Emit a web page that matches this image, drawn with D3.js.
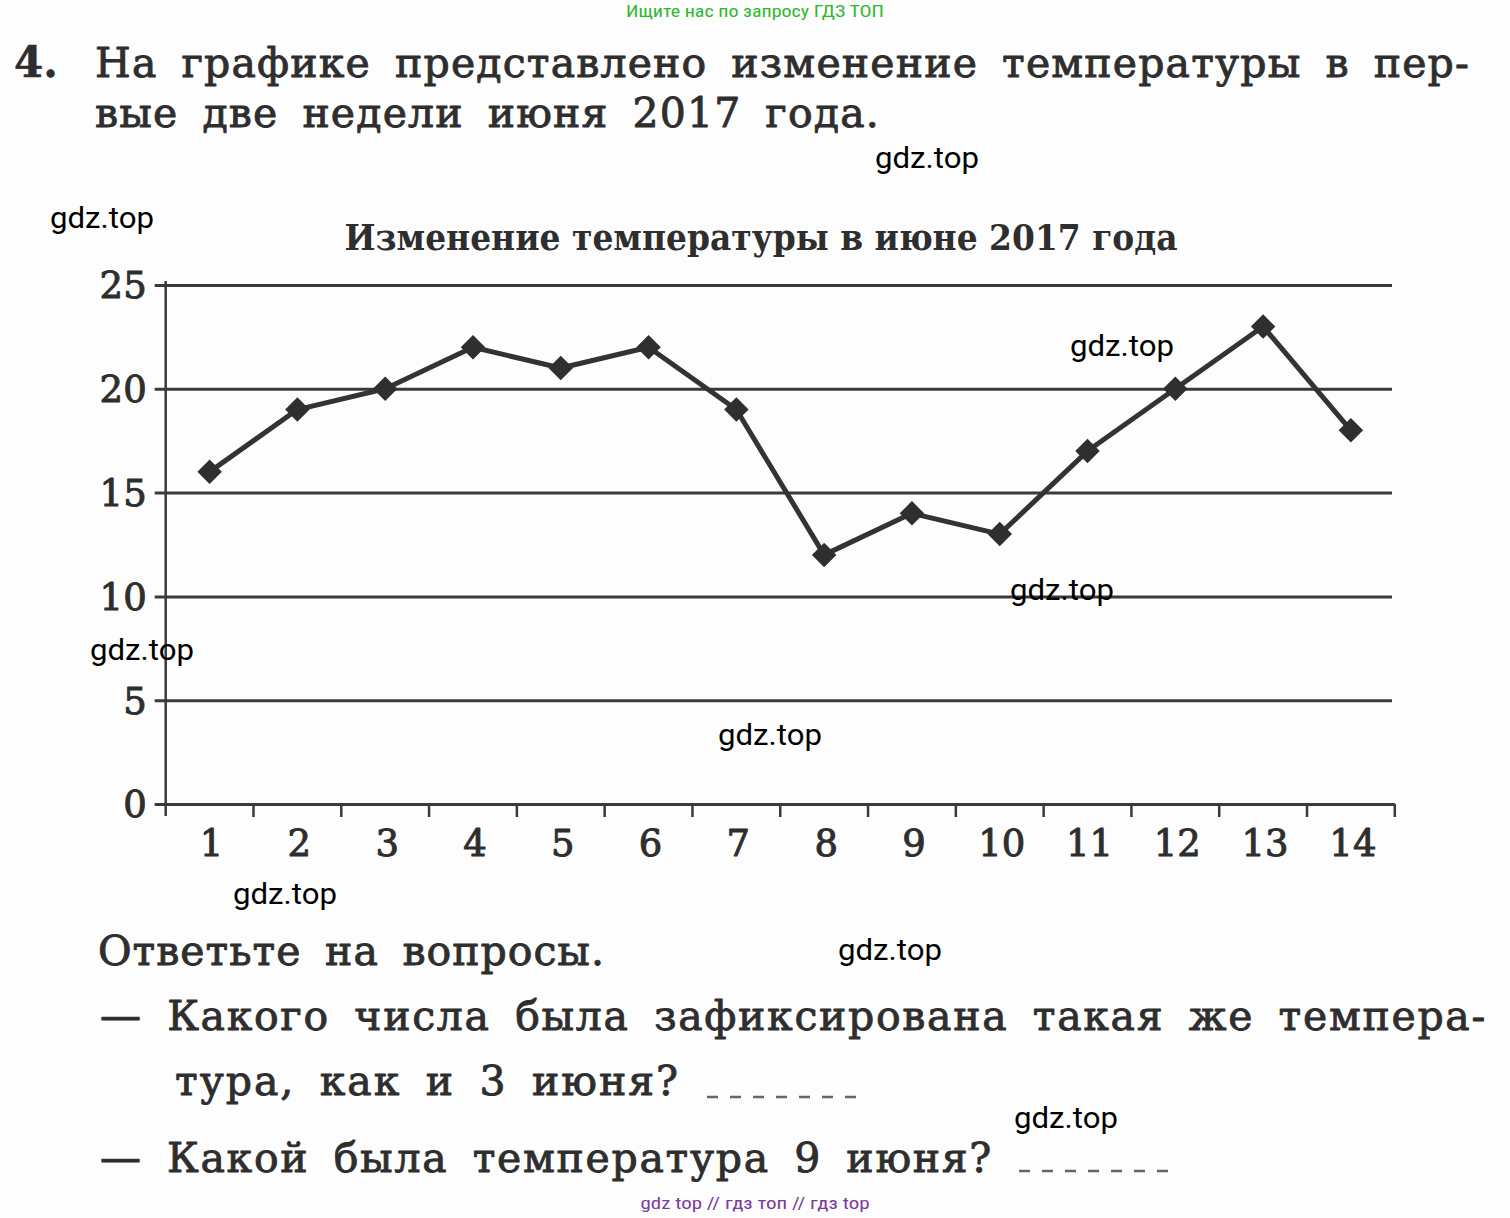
<!DOCTYPE html>
<html><head><meta charset="utf-8">
<script src="https://cdn.jsdelivr.net/npm/d3@7"></script>
<style>
html,body{margin:0;padding:0;background:#fff;}
svg{display:block;}
</style></head>
<body>
<script>
// ---- data ----
const days = ["1","2","3","4","5","6","7","8","9","10","11","12","13","14"];
const temps = [16,19,20,22,21,22,19,12,14,13,17,20,23,18];
const yTicks = [0,5,10,15,20,25];
const chartTitle = "Изменение температуры в июне 2017 года";
const headerLines = ["На графике представлено изменение температуры в пер-","вые две недели июня 2017 года."];
const questionLines = ["Ответьте на вопросы.","— Какого числа была зафиксирована такая же темпера-","тура, как и 3 июня?","— Какой была температура 9 июня?"];
const watermarks = [[50,218],[875,158],[1070,346],[1010,590],[90,650],[718,735],[233,894],[838,950],[1014,1118]];

const W = 1510, H = 1218;
const svg = d3.select("body").append("svg").attr("width",W).attr("height",H);
svg.append("rect").attr("width",W).attr("height",H).attr("fill","#fdfdfd");

const ink = "#2e2e2e";
const serif = "'DejaVu Serif', serif";

function heavy(sel, w){
  return sel.attr("stroke",ink).attr("stroke-width",w).attr("stroke-linejoin","round");
}
function justify(sel, width, ws){
  const txt = sel.text();
  const spaces = (txt.match(/ /g)||[]).length;
  if(spaces>0) sel.attr("word-spacing", ws);
  const nat = sel.node().getComputedTextLength();
  const n = txt.length;
  sel.attr("letter-spacing", Math.max(0,(width-nat)/(n-1)));
  // correct residual with word spacing
  const nat2 = sel.node().getComputedTextLength();
  if(spaces>0) sel.attr("word-spacing", ws + (width-nat2)/spaces);
}
function bodyText(x0, y0, txt, width){
  const t = svg.append("text").attr("x",x0).attr("y",y0).attr("font-family",serif)
    .attr("font-size",41).attr("fill",ink).text(txt);
  heavy(t, 0.9);
  justify(t, width, 10);
  return t;
}

// top banner
svg.append("text").attr("x",755).attr("y",17).attr("text-anchor","middle")
  .attr("font-family","'Liberation Sans Narrow','Roboto Condensed','Liberation Sans',sans-serif")
  .attr("font-size",17).attr("fill","#2db82d").attr("textLength",258).attr("lengthAdjust","spacingAndGlyphs")
  .text("Ищите нас по запросу ГДЗ ТОП");

// header
heavy(svg.append("text").attr("x",14).attr("y",77).attr("font-family",serif).attr("font-weight","bold")
  .attr("font-size",42).attr("fill",ink).text("4."), 0.5);
bodyText(95, 77, headerLines[0], 1375);
bodyText(95, 127, headerLines[1], 785);

// chart title
svg.append("text").attr("x",761).attr("y",250).attr("text-anchor","middle")
  .attr("font-family",serif).attr("font-weight","bold").attr("font-size",35).attr("fill",ink)
  .attr("textLength",833).attr("lengthAdjust","spacingAndGlyphs").text(chartTitle);

// scales
const x = d3.scaleBand().domain(days).range([165.7,1394.8]).padding(0);
const y = d3.scaleLinear().domain([0,25]).range([804,285]);

// y axis with gridlines
const gy = svg.append("g").attr("transform","translate(165.7,0)")
  .call(d3.axisLeft(y).tickValues(yTicks).tickSize(-(1392-165.7)).tickPadding(20));
gy.select(".domain").remove();
gy.selectAll(".tick line").attr("x1",-11).attr("stroke","#3a3a3a").attr("stroke-width",3)
  .attr("x2",d=>d===0 ? 1394.8-165.7 : 1392-165.7);
heavy(gy.selectAll(".tick text").attr("font-family",serif).attr("font-size",37).attr("fill",ink)
  .attr("x",-19).attr("dy","0.35em"), 1);
svg.append("line").attr("x1",165.7).attr("x2",165.7).attr("y1",y(25)-4).attr("y2",y(0)+12)
  .attr("stroke","#3a3a3a").attr("stroke-width",2.5);

// x axis
const gx = svg.append("g").attr("transform",`translate(0,${y(0)})`)
  .call(d3.axisBottom(x).tickSize(0).tickPadding(26));
gx.select(".domain").remove();
heavy(gx.selectAll(".tick text").attr("font-family",serif).attr("font-size",37).attr("fill",ink)
  .attr("dy","0.71em").attr("dx",2), 1);
const bounds = days.map(d=>x(d)).concat([x(days[days.length-1])+x.bandwidth()]);
svg.append("g").selectAll("line").data(bounds.slice(1)).join("line")
  .attr("x1",d=>d).attr("x2",d=>d).attr("y1",y(0)).attr("y2",y(0)+13)
  .attr("stroke","#3a3a3a").attr("stroke-width",2.5);

// line + markers
const pts = days.map((d,i)=>[x(d)+x.bandwidth()/2, y(temps[i])]);
svg.append("path").attr("d",d3.line()(pts)).attr("fill","none")
  .attr("stroke","#333").attr("stroke-width",5).attr("stroke-linejoin","round");
svg.append("g").selectAll("path").data(pts).join("path")
  .attr("d",d3.symbol(d3.symbolSquare,300)())
  .attr("transform",d=>`translate(${d[0]},${d[1]}) rotate(45)`)
  .attr("fill","#2f2f2f");

// questions
bodyText(98, 965, questionLines[0], 507);
bodyText(100, 1030, questionLines[1], 1387);
bodyText(175, 1095, questionLines[2], 505);
bodyText(100, 1172, questionLines[3], 893);
[[707,858,1097],[1019,1170,1171]].forEach(([a,b,yy])=>{
  svg.append("line").attr("x1",a).attr("x2",b).attr("y1",yy).attr("y2",yy)
    .attr("stroke","#666").attr("stroke-width",2.5).attr("stroke-dasharray","11,12");
});

// watermarks
svg.append("g").selectAll("text").data(watermarks).join("text")
  .attr("x",d=>d[0]).attr("y",d=>d[1]+10)
  .attr("font-family","Roboto,'Liberation Sans',sans-serif").attr("font-size",29).attr("fill","#000")
  .attr("textLength",104).attr("lengthAdjust","spacingAndGlyphs").text("gdz.top");

// bottom banner
svg.append("text").attr("x",755).attr("y",1209).attr("text-anchor","middle")
  .attr("font-family","'Liberation Sans Narrow','Roboto Condensed','Liberation Sans',sans-serif")
  .attr("font-size",17).attr("fill","#7b3aa0").attr("textLength",229).attr("lengthAdjust","spacingAndGlyphs")
  .text("gdz top  //  гдз топ  //  гдз top");
</script>
</body></html>
